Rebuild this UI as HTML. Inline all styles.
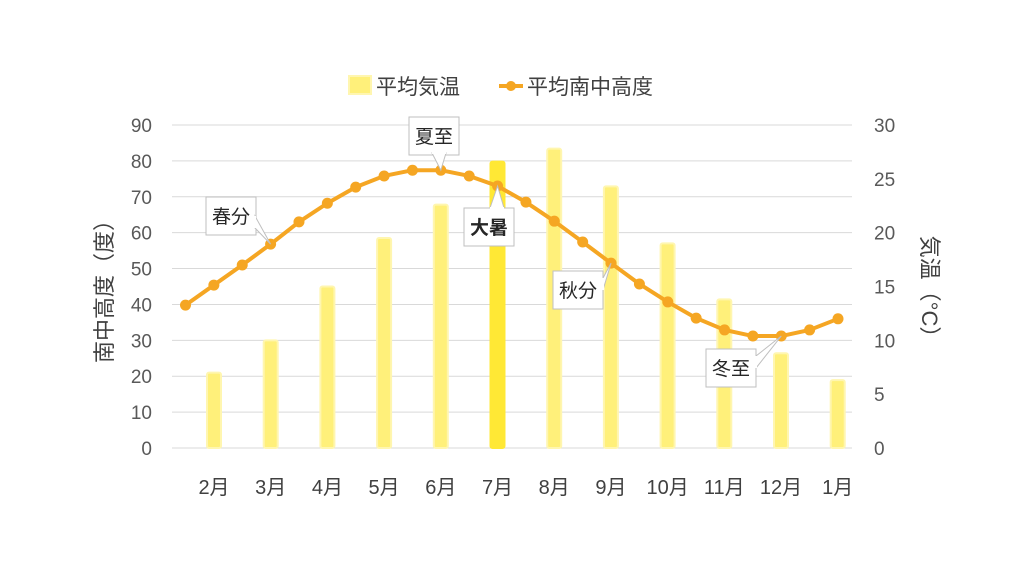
<!DOCTYPE html>
<html><head><meta charset="utf-8"><style>
body{margin:0;background:#fff;}
svg{display:block;font-family:"Liberation Sans","Noto Sans CJK JP",sans-serif;}
</style></head><body>
<svg id="c" width="1024" height="576" viewBox="0 0 1024 576"></svg>
<script>
const months=["2月","3月","4月","5月","6月","7月","8月","9月","10月","11月","12月","1月"];
const temps=[7.0,10.0,15.0,19.5,22.6,26.6,27.8,24.3,19.0,13.8,8.8,6.3];
const altitude=[39.8,45.4,51,56.8,63,68.2,72.7,75.8,77.4,77.4,75.8,73,68.5,63.2,57.4,51.5,45.7,40.7,36.2,32.9,31.2,31.2,32.9,36];
const leftTicks=[0,10,20,30,40,50,60,70,80,90];
const rightTicks=[0,5,10,15,20,25,30];
const highlight=5;
const callouts=[
 {text:"春分",idx:3,bx:206,by:197,bold:false,px:255,py:228,px2:255,py2:216},
 {text:"夏至",idx:9,bx:409,by:117,bold:false,px:432,py:153,px2:446,py2:153},
 {text:"大暑",idx:11,bx:464,by:208,bold:true,px:490,py:208,px2:504,py2:208},
 {text:"秋分",idx:15,bx:553,by:271,bold:false,px:603,py:278,px2:603,py2:290},
 {text:"冬至",idx:21,bx:706,by:349,bold:false,px:756,py:356,px2:756,py2:368}
];
const svg=document.getElementById('c');const NS="http://www.w3.org/2000/svg";
function el(t,a,p){const e=document.createElementNS(NS,t);for(const k in a)e.setAttribute(k,a[k]);(p||svg).appendChild(e);return e;}
const y0=448,yTop=125,x0=172,x1=852;
const yL=v=>y0-(v/90)*(y0-yTop);
const yR=v=>y0-(v/30)*(y0-yTop);
const bx=i=>214+i*56.7;
const lx=i=>185.5+i*28.37;
// grid + left ticks
leftTicks.forEach(v=>{
 const g=el('line',{x1:x0,x2:x1,y1:yL(v),y2:yL(v),stroke:'#d9d9d9','stroke-width':1});
 
 const t=el('text',{x:152,y:yL(v)+7,'text-anchor':'end','font-size':19,fill:'#595959'});t.textContent=v;
 
});
rightTicks.forEach(v=>{
 const t=el('text',{x:874,y:yR(v)+7,'font-size':19,fill:'#595959'});t.textContent=v;
 
});
// bars
temps.forEach((v,i)=>{
 const h=i===highlight;
 const r=el('rect',{x:bx(i)-7,y:yR(v),width:14,height:y0-yR(v),fill:h?'#ffe835':'#fff07a',stroke:h?'#ffe835':'#fff6b0','stroke-width':2,rx:2});
 
 const t=el('text',{x:bx(i),y:494,'text-anchor':'middle','font-size':20,fill:'#404040'});t.textContent=months[i];
 
});
// line
const pl=el('polyline',{points:altitude.map((v,i)=>lx(i)+','+yL(v)).join(' '),fill:'none',stroke:'#f5a623','stroke-width':4,'stroke-linejoin':'round'});

altitude.forEach((v,i)=>{
 const c=el('circle',{cx:lx(i),cy:yL(v),r:5.5,fill:'#f5a623'});
 
});
// callouts
callouts.forEach(c=>{
 const tx=lx(c.idx),ty=yL(altitude[c.idx]);
 const g=el('g',{});
 el('rect',{x:c.bx,y:c.by,width:50,height:38,fill:'#fff',stroke:'#bfbfbf','stroke-width':1},g);
 el('polygon',{points:c.px+','+c.py+' '+tx+','+ty+' '+c.px2+','+c.py2,fill:'#fff',stroke:'#bfbfbf','stroke-width':1},g);
 el('line',{x1:c.px,y1:c.py,x2:c.px2,y2:c.py2,stroke:'#fff','stroke-width':2},g);
 const t=el('text',{x:c.bx+25,y:c.by+26,'text-anchor':'middle','font-size':19,fill:'#262626','font-weight':c.bold?'bold':'normal'},g);t.textContent=c.text;
});
// axis titles
let t=el('text',{transform:'translate(112,286) rotate(-90)','text-anchor':'middle','font-size':22,fill:'#404040'});t.textContent='南中高度（度）';

t=el('text',{transform:'translate(922,292) rotate(90)','text-anchor':'middle','font-size':22,fill:'#404040'});t.textContent='気温（°C）';

// legend
const lg=el('g',{});
el('rect',{x:349,y:76,width:22,height:18,fill:'#fff07a',stroke:'#fff6b0','stroke-width':2},lg);
t=el('text',{x:376,y:94,'font-size':21,fill:'#404040'},lg);t.textContent='平均気温';
el('line',{x1:499,x2:523,y1:86,y2:86,stroke:'#f5a623','stroke-width':4},lg);
el('circle',{cx:511,cy:86,r:5,fill:'#f5a623'},lg);
t=el('text',{x:527,y:94,'font-size':21,fill:'#404040'},lg);t.textContent='平均南中高度';
</script>
</body></html>
